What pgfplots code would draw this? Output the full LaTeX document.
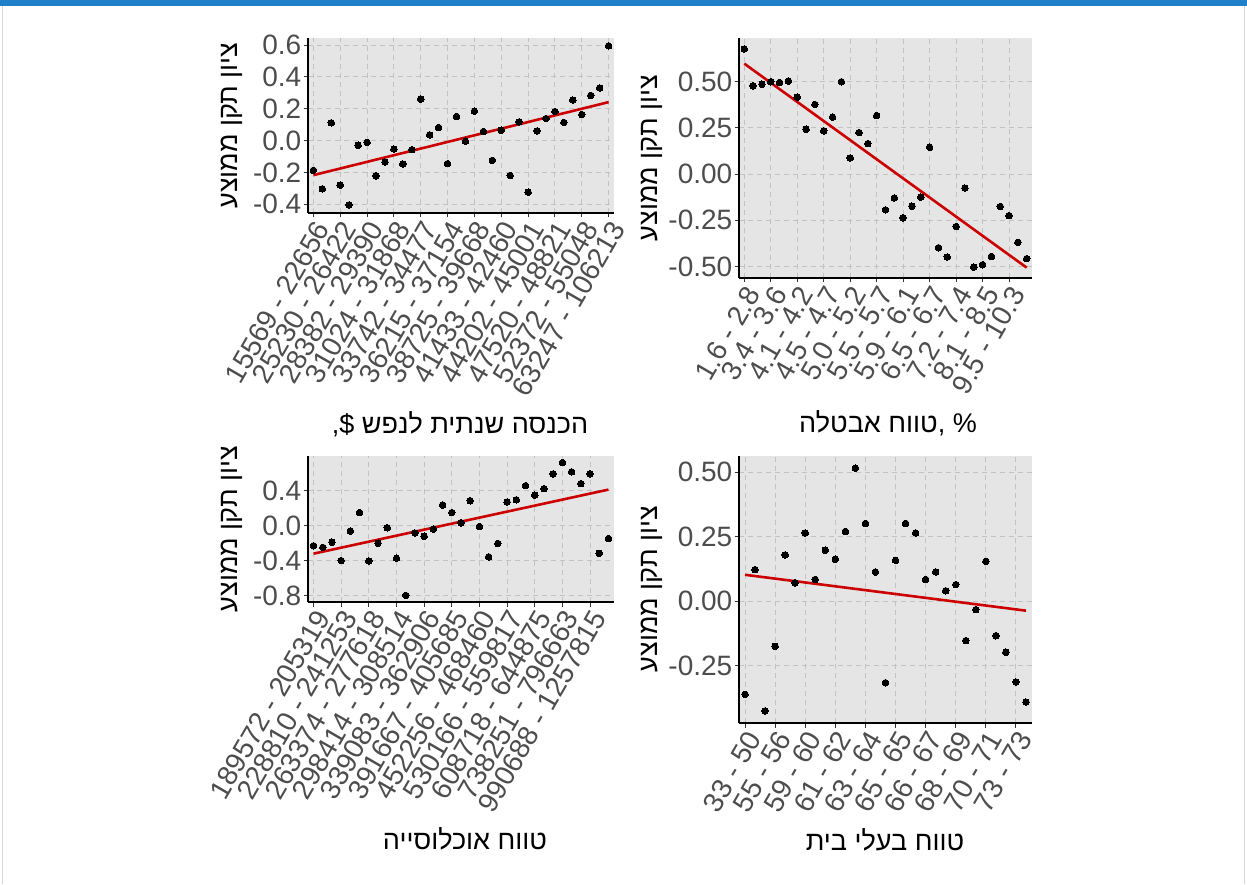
\documentclass[border=0pt]{standalone}
\usepackage{fontspec}
\setmainfont{Liberation Sans}
\newfontfamily\heb[Script=Hebrew]{Liberation Sans}
\usepackage{pgfplots}
\pgfplotsset{compat=1.18}
\usepackage{pgfplotstable}
\TeXXeTstate=1
\definecolor{panelbg}{HTML}{E5E5E5}
\definecolor{gridc}{HTML}{C2C2C2}
\definecolor{ticktext}{HTML}{4D4D4D}
\definecolor{fitred}{HTML}{CC0000}
\definecolor{topblue}{HTML}{1F80C8}
\definecolor{frameg}{HTML}{D8D8D8}

\pgfplotstableread{
x y
1 -0.187
2 -0.303
3 0.112
4 -0.280
5 -0.404
6 -0.029
7 -0.011
8 -0.221
9 -0.135
10 -0.053
11 -0.147
12 -0.057
13 0.261
14 0.036
15 0.082
16 -0.145
17 0.152
18 -0.004
19 0.185
20 0.057
21 -0.124
22 0.065
23 -0.219
24 0.118
25 -0.324
26 0.061
27 0.139
28 0.183
29 0.114
30 0.255
31 0.164
32 0.284
33 0.331
34 0.596
}\income

\pgfplotstableread{
x y
1 0.678
2 0.478
3 0.487
4 0.500
5 0.496
6 0.504
7 0.417
8 0.243
9 0.377
10 0.234
11 0.308
12 0.500
13 0.087
14 0.225
15 0.165
16 0.317
17 -0.194
18 -0.129
19 -0.237
20 -0.174
21 -0.125
22 0.145
23 -0.399
24 -0.449
25 -0.284
26 -0.076
27 -0.504
28 -0.491
29 -0.446
30 -0.176
31 -0.225
32 -0.370
33 -0.458
}\unemp

\pgfplotstableread{
x y
1 -0.230
2 -0.249
3 -0.189
4 -0.400
5 -0.060
6 0.151
7 -0.404
8 -0.200
9 -0.023
10 -0.374
11 -0.800
12 -0.083
13 -0.121
14 -0.038
15 0.238
16 0.151
17 0.034
18 0.287
19 -0.008
20 -0.358
21 -0.204
22 0.272
23 0.298
24 0.460
25 0.351
26 0.426
27 0.596
28 0.725
29 0.619
30 0.483
31 0.596
32 -0.317
33 -0.147
}\popul

\pgfplotstableread{
x y
1 -0.361
2 0.122
3 -0.425
4 -0.175
5 0.179
6 0.071
7 0.264
8 0.084
9 0.197
10 0.162
11 0.270
12 0.515
13 0.301
14 0.113
15 -0.316
16 0.158
17 0.301
18 0.264
19 0.084
20 0.113
21 0.040
22 0.064
23 -0.153
24 -0.033
25 0.154
26 -0.134
27 -0.198
28 -0.313
29 -0.391
}\owners

\pgfplotsset{
 panel/.style={
  scale only axis,
  anchor=south west,
  axis background/.style={fill=panelbg},
  axis x line*=bottom, axis y line*=left,
  axis line style={black, line width=1.3pt, -},
  grid=major,
  major grid style={gridc, dash pattern=on 5pt off 4pt, line width=1pt},
  tick align=outside, major tick length=4.5pt,
  tick style={black!80, line width=1pt},
  ticklabel style={font=\fontsize{28}{30}\selectfont, text=ticktext},
  /pgf/number format/assume math mode=true,
  xticklabel style={rotate=60, anchor=north east, inner sep=1pt},
  yticklabel style={/pgf/number format/fixed, /pgf/number format/fixed zerofill, anchor=east, inner sep=2pt},
 },
 pts/.style={only marks, mark=*, mark size=3.3pt, mark options={fill=black, draw=black, line width=0pt}},
 fit/.style={no marks, fitred, line width=2.6pt},
}

\begin{document}
\begin{tikzpicture}[x=1pt,y=1pt]
\useasboundingbox (0,0) rectangle (1247,884);
\fill[white] (0,0) rectangle (1247,884);
\fill[topblue] (0,878) rectangle (1247,884);
\draw[frameg, line width=1.2pt] (2.5,0) -- (2.5,878);
\draw[frameg, line width=1.2pt] (1244.5,0) -- (1244.5,878);

% Top left: income
\begin{axis}[panel, at={(308pt,671pt)}, width=306pt, height=175pt,
  xmin=0.4, xmax=34.6, ymin=-0.455, ymax=0.645,
  xtick={1,4,7,10,13,16,19,22,25,28,31,34},
  xticklabels={15569 - 22656, 25230 - 26422, 28382 - 29390, 31024 - 31868, 33742 - 34477, 36215 - 37154, 38725 - 39668, 41433 - 42460, 44202 - 45001, 47520 - 48821, 52372 - 55048, 63247 - 106213},
  ytick={-0.4,-0.2,0,0.2,0.4,0.6},
  yticklabel style={/pgf/number format/precision=1}]
\addplot[pts] table[x=x,y=y]{\income};
\addplot[fit] coordinates {(1,-0.217) (34,0.242)};
\end{axis}

% Top right: unemployment
\begin{axis}[panel, at={(739pt,606pt)}, width=293pt, height=240pt,
  xmin=0.4, xmax=33.6, ymin=-0.563, ymax=0.737,
  xtick={1,4,7,10,13,16,19,22,25,28,31},
  xticklabels={1.6 - 2.8, 3.4 - 3.6, 4.1 - 4.2, 4.5 - 4.7, 5.0 - 5.2, 5.5 - 5.7, 5.9 - 6.1, 6.5 - 6.7, 7.2 - 7.4, 8.1 - 8.5, 9.5 - 10.3},
  ytick={-0.5,-0.25,0,0.25,0.5},
  yticklabel style={/pgf/number format/precision=2}]
\addplot[pts] table[x=x,y=y]{\unemp};
\addplot[fit] coordinates {(1,0.598) (33,-0.507)};
\end{axis}

% Bottom left: population
\begin{axis}[panel, at={(308pt,282pt)}, width=306pt, height=146pt,
  xmin=0.4, xmax=33.6, ymin=-0.876, ymax=0.801,
  xtick={1,4,7,10,13,16,19,22,25,28,31},
  xticklabels={189572 - 205319, 228810 - 241253, 263374 - 277618, 298414 - 308514, 339083 - 362906, 391667 - 405685, 452256 - 468460, 530166 - 559817, 608718 - 644875, 738251 - 796663, 990688 - 1257815},
  ytick={-0.8,-0.4,0,0.4},
  yticklabel style={/pgf/number format/precision=1}]
\addplot[pts] table[x=x,y=y]{\popul};
\addplot[fit] coordinates {(1,-0.321) (33,0.415)};
\end{axis}

% Bottom right: home owners
\begin{axis}[panel, at={(739pt,161pt)}, width=293pt, height=267pt,
  xmin=0.4, xmax=29.6, ymin=-0.472, ymax=0.562,
  xtick={1,4,7,10,13,16,19,22,25,28},
  xticklabels={33 - 50, 55 - 56, 59 - 60, 61 - 62, 63 - 64, 65 - 65, 66 - 67, 68 - 69, 70 - 71, 73 - 73},
  ytick={-0.25,0,0.25,0.5},
  yticklabel style={/pgf/number format/precision=2}]
\addplot[pts] table[x=x,y=y]{\owners};
\addplot[fit] coordinates {(1,0.102) (29,-0.037)};
\end{axis}

% axis titles
\tikzset{ttl/.style={font=\fontsize{27}{29}\selectfont\heb, text=black, inner sep=0pt}}
\node[ttl, rotate=90] at (231.5,758.5) {\beginR ציון תקן ממוצע\endR};
\node[ttl, rotate=90] at (651.5,726) {\beginR ציון תקן ממוצע\endR};
\node[ttl, rotate=90] at (231.5,355) {\beginR ציון תקן ממוצע\endR};
\node[ttl, rotate=90] at (652,295) {\beginR ציון תקן ממוצע\endR};
\node[ttl] at (460,460) {\$, \beginR הכנסה שנתית לנפש\endR};
\node[ttl] at (888,461) {\beginR טווח אבטלה\endR, \%};
\node[ttl] at (465,45) {\beginR טווח אוכלוסייה\endR};
\node[ttl] at (885,44) {\beginR טווח בעלי בית\endR};
\end{tikzpicture}
\end{document}
